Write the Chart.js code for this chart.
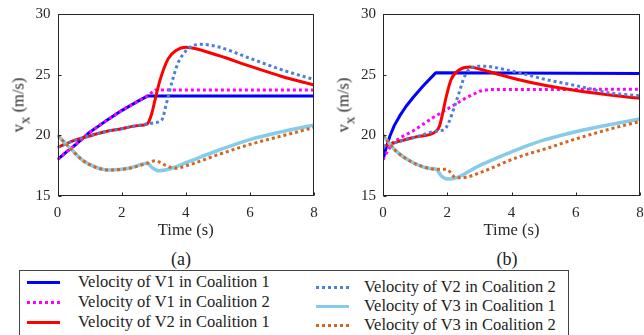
<!DOCTYPE html>
<html>
<head>
<meta charset="utf-8">
<script src="https://cdn.jsdelivr.net/npm/chart.js@4/dist/chart.umd.min.js"></script>
<style>
  html, body { margin:0; padding:0; background:#fff; }
  body { width:644px; height:335px; position:relative; overflow:hidden; font-family:"Liberation Serif", "Times New Roman", serif; color:#222; }
  .cv { position:absolute; top:0; }
  .ytitle { position:absolute; font-size:16.5px; white-space:nowrap; transform:translate(-50%,-50%) rotate(-90deg); color:#262626; }
  .ytitle sub { font-size:15px; vertical-align:-6px; }
  .cap { position:absolute; font-size:18px; transform:translate(-50%,-50%); color:#222; }
  .legend { position:absolute; left:19px; top:270px; width:550px; height:80px; border:1px solid #444; box-sizing:border-box; }
  .row { position:absolute; font-size:16.5px; white-space:nowrap; line-height:18px; }
  .smp { position:absolute; width:33px; height:3px; }
</style>
</head>
<body>
<canvas id="cA" class="cv" style="left:0px" width="322" height="245"></canvas>
<canvas id="cB" class="cv" style="left:322px" width="322" height="245"></canvas>
<div class="ytitle" style="left:21px;top:105px">v<sub>x</sub> (m/s)</div>
<div class="ytitle" style="left:346px;top:105px">v<sub>x</sub> (m/s)</div>
<div class="cap" style="left:181px;top:259px">(a)</div>
<div class="cap" style="left:507px;top:259px">(b)</div>
<div class="legend" id="leg"></div>
<script>
// ---------- data ----------
const seriesNames = [
  "Velocity of V1 in Coalition 1",
  "Velocity of V1 in Coalition 2",
  "Velocity of V2 in Coalition 1",
  "Velocity of V2 in Coalition 2",
  "Velocity of V3 in Coalition 1",
  "Velocity of V3 in Coalition 2"
];
const xTicks = [0, 2, 4, 6, 8];
const yTicks = [15, 20, 25, 30];

// panel (a)
const tA_V1C1 = [0, 0.3, 0.55, 0.96, 1.48, 2.0, 2.5, 2.82, 8];
const vA_V1C1 = [18, 18.68, 19.2, 20.17, 21.13, 22.04, 22.8, 23.25, 23.25];
const tA_V1C2 = [0, 0.3, 0.55, 0.96, 1.48, 2.0, 2.5, 2.82, 3.05, 8];
const vA_V1C2 = [18, 18.68, 19.2, 20.17, 21.13, 22.04, 22.8, 23.28, 23.74, 23.74];
const tA_V2C1 = [0, 0.55, 1, 1.48, 2, 2.5, 2.8, 2.94, 3.04, 3.2, 3.45, 3.7, 4.0, 4.2, 5, 6, 7, 8];
const vA_V2C1 = [19, 19.6, 19.95, 20.3, 20.55, 20.8, 20.94, 21.8, 22.9, 24.57, 26.3, 27.0, 27.25, 27.2, 26.6, 25.7, 24.85, 24.15];
const tA_V2C2 = [0, 0.55, 1, 1.48, 2, 2.5, 2.8, 3.04, 3.25, 3.4, 3.56, 3.75, 4.0, 4.2, 4.45, 5, 6, 7, 8];
const vA_V2C2 = [19, 19.6, 19.95, 20.3, 20.55, 20.8, 20.94, 21.05, 21.27, 22.65, 24.3, 25.9, 26.95, 27.35, 27.5, 27.3, 26.35, 25.4, 24.6];
const tA_V3C1 = [0, 0.35, 0.77, 1.19, 1.6, 2.23, 2.8, 2.94, 3.15, 3.46, 4.09, 5, 6, 7, 8];
const vA_V3C1 = [20, 19.07, 17.97, 17.37, 17.14, 17.28, 17.7, 17.37, 17.08, 17.2, 17.83, 18.75, 19.65, 20.3, 20.85];
const tA_V3C2 = [0, 0.35, 0.77, 1.19, 1.6, 2.23, 2.8, 3.04, 3.36, 3.67, 4.09, 5, 6, 7, 8];
const vA_V3C2 = [20, 19.07, 17.97, 17.37, 17.14, 17.28, 17.7, 17.9, 17.55, 17.28, 17.55, 18.4, 19.25, 19.95, 20.65];

// panel (b)
const tB_V1C1 = [0, 0.1, 0.21, 0.35, 0.52, 0.72, 0.93, 1.24, 1.64, 8];
const vB_V1C1 = [18, 19.0, 19.9, 20.8, 21.6, 22.4, 23.1, 24.05, 25.15, 25.1];
const tB_V1C2 = [0, 0.15, 0.31, 0.6, 0.93, 1.55, 2.07, 2.59, 3.0, 3.31, 8];
const vB_V1C2 = [18, 18.75, 19.4, 19.9, 20.35, 21.45, 22.27, 23.1, 23.63, 23.77, 23.8];
const tB_V2C1 = [0, 0.5, 1, 1.66, 1.75, 1.83, 1.97, 2.12, 2.38, 2.69, 3.0, 3.5, 4.2, 5.07, 6, 7, 8];
const vB_V2C1 = [19.07, 19.5, 19.85, 20.35, 20.7, 21.5, 23.2, 24.6, 25.4, 25.63, 25.47, 25.1, 24.6, 24.1, 23.7, 23.35, 23.05];
const tB_V2C2 = [0, 0.5, 1, 1.66, 1.92, 2.07, 2.23, 2.38, 2.54, 2.74, 3.1, 3.83, 5.07, 6, 7.04, 8];
const vB_V2C2 = [19.07, 19.5, 19.85, 20.35, 20.5, 21.2, 22.4, 23.6, 24.86, 25.55, 25.7, 25.4, 24.6, 24.1, 23.5, 23.25];
const tB_V3C1 = [0, 0.41, 0.93, 1.45, 1.66, 1.81, 2.02, 2.28, 3.0, 4.2, 5, 6, 7, 8];
const vB_V3C1 = [20, 18.7, 17.76, 17.27, 17.2, 16.67, 16.4, 16.5, 17.5, 18.85, 19.6, 20.3, 20.85, 21.35];
const tB_V3C2 = [0, 0.41, 0.93, 1.45, 1.66, 1.97, 2.28, 2.59, 3.0, 4.2, 5.07, 6, 7.04, 8];
const vB_V3C2 = [20, 18.7, 17.76, 17.27, 17.2, 17.2, 16.5, 16.55, 16.9, 18.2, 18.9, 19.7, 20.5, 21.15];

// ---------- styles ----------
const styles = [
  { color: "#0000FF", dash: [], width: 3, smooth: false },
  { color: "#FF00FF", dash: [3, 3], width: 3, smooth: false },
  { color: "#FF0000", dash: [], width: 3, smooth: true },
  { color: "#4A7FDA", dash: [3, 3], width: 3, smooth: true },
  { color: "#87CBEA", dash: [], width: 3.5, smooth: true },
  { color: "#D6641F", dash: [3, 3], width: 3, smooth: true }
];

function pts(t, v) { return t.map((x, i) => ({ x: x, y: v[i] })); }

const panelA = [pts(tA_V1C1, vA_V1C1), pts(tA_V1C2, vA_V1C2), pts(tA_V2C1, vA_V2C1),
                pts(tA_V2C2, vA_V2C2), pts(tA_V3C1, vA_V3C1), pts(tA_V3C2, vA_V3C2)];
const panelB = [pts(tB_V1C1, vB_V1C1), pts(tB_V1C2, vB_V1C2), pts(tB_V2C1, vB_V2C1),
                pts(tB_V2C2, vB_V2C2), pts(tB_V3C1, vB_V3C1), pts(tB_V3C2, vB_V3C2)];

const framePlugin = {
  id: 'frame',
  afterDatasetsDraw(chart) {
    const { ctx, chartArea: a, scales: { x, y } } = chart;
    ctx.save();
    ctx.strokeStyle = '#262626';
    ctx.lineWidth = 1;
    ctx.setLineDash([]);
    const L = Math.round(a.left) + 0.5, R = Math.round(a.right) - 0.5;
    const T = Math.round(a.top) + 0.5, B = Math.round(a.bottom) - 0.5;
    ctx.strokeRect(L, T, R - L, B - T);
    ctx.beginPath();
    xTicks.forEach(v => {
      const px = Math.round(x.getPixelForValue(v)) + 0.5;
      ctx.moveTo(px, B); ctx.lineTo(px, B - 3);
    });
    yTicks.forEach(v => {
      const py = Math.round(y.getPixelForValue(v)) + 0.5;
      ctx.moveTo(L, py); ctx.lineTo(L + 3, py);
    });
    ctx.stroke();
    ctx.restore();
  }
};

function makeChart(id, data, yWidth, padRight) {
  return new Chart(document.getElementById(id), {
    type: 'line',
    data: {
      datasets: data.map((d, i) => ({
        label: seriesNames[i],
        data: d,
        borderColor: styles[i].color,
        backgroundColor: styles[i].color,
        borderWidth: styles[i].width,
        borderDash: styles[i].dash,
        borderCapStyle: 'butt',
        borderJoinStyle: 'round',
        pointRadius: 0,
        fill: false,
        tension: styles[i].smooth ? 0.4 : 0,
        cubicInterpolationMode: styles[i].smooth ? 'monotone' : 'default',
        order: 6 - i
      }))
    },
    options: {
      responsive: false,
      animation: false,
      events: [],
      layout: { padding: { top: 14, left: 0, right: padRight, bottom: 0 } },
      plugins: { legend: { display: false }, tooltip: { enabled: false } },
      scales: {
        x: {
          type: 'linear', min: 0, max: 8,
          afterBuildTicks: s => { s.ticks = xTicks.map(v => ({ value: v })); },
          afterFit: s => { s.height = 49; s.paddingLeft = 0; s.paddingRight = 0; },
          grid: { display: false, drawTicks: false },
          border: { display: false },
          ticks: { color: '#262626', padding: 8, maxRotation: 0, font: { family: 'Liberation Serif', size: 15 } },
          title: { display: true, text: 'Time (s)', color: '#262626', padding: { top: 0, bottom: 4 }, font: { family: 'Liberation Serif', size: 16.5 } }
        },
        y: {
          type: 'linear', min: 15, max: 30,
          afterBuildTicks: s => { s.ticks = yTicks.map(v => ({ value: v })); },
          afterFit: s => { s.width = yWidth; s.paddingTop = 0; s.paddingBottom = 0; },
          grid: { display: false, drawTicks: false },
          border: { display: false },
          ticks: { color: '#262626', padding: 7, font: { family: 'Liberation Serif', size: 15 } }
        }
      }
    },
    plugins: [framePlugin]
  });
}

makeChart('cA', panelA, 57.5, 8);
makeChart('cB', panelB, 61, 4);

// ---------- legend (HTML) ----------
const legPos = [
  { col: 0, top: 11 }, { col: 0, top: 31 }, { col: 0, top: 51 },
  { col: 1, top: 16 }, { col: 1, top: 35 }, { col: 1, top: 54 }
];
const leg = document.getElementById('leg');
seriesNames.forEach((name, i) => {
  const p = legPos[i];
  const sx = p.col === 0 ? 7 : 296;
  const tx = p.col === 0 ? 58 : 344;
  const s = document.createElement('div');
  s.className = 'smp';
  s.style.left = sx + 'px';
  s.style.top = (p.top - 1.5) + 'px';
  s.style.height = styles[i].width + 'px';
  if (styles[i].dash.length) {
    s.style.background = `repeating-linear-gradient(90deg, ${styles[i].color} 0 3px, transparent 3px 6px)`;
  } else {
    s.style.background = styles[i].color;
  }
  leg.appendChild(s);
  const t = document.createElement('div');
  t.className = 'row';
  t.style.left = tx + 'px';
  t.style.top = (p.top - 9) + 'px';
  t.textContent = name;
  leg.appendChild(t);
});
</script>
</body>
</html>
